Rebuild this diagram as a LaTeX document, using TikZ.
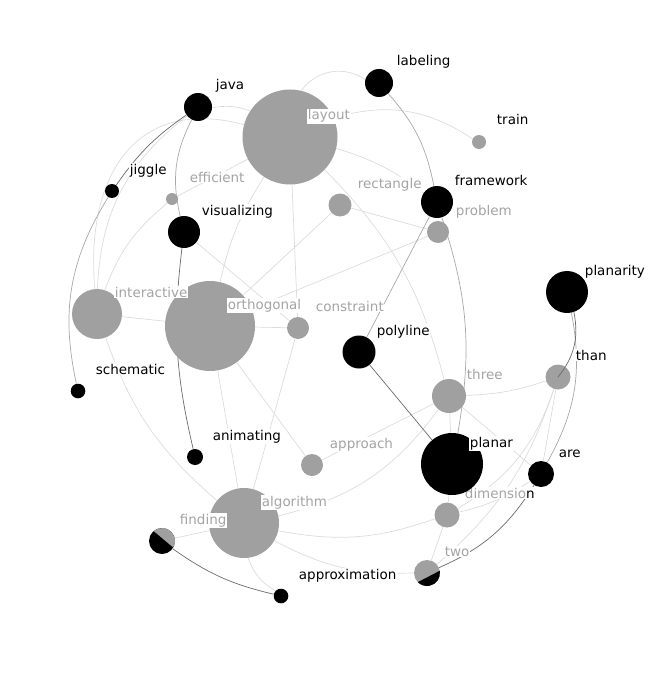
\documentclass[tikz,border=0pt]{standalone}
\usepackage{fontspec}
\setmainfont{DejaVu Sans}
\usetikzlibrary{calc}
\pgfdeclarelayer{wires}
\pgfsetlayers{wires,main}
\definecolor{ink}{HTML}{000000}
\definecolor{dotgray}{HTML}{A0A0A0}
\definecolor{wordgray}{HTML}{A4A4A4}
\definecolor{faint}{HTML}{DCDCDC}
\definecolor{mid}{HTML}{A8A8A8}
\definecolor{deep}{HTML}{6A6A6A}

\begin{document}
\begin{tikzpicture}[x=0.03cm,y=-0.03cm,line cap=round,line join=round,font=\fontsize{11.5}{13}\selectfont]
  \tikzset{
    graydot/.style={circle,fill=dotgray,inner sep=0pt,minimum size=#1*0.6mm},
    blackdot/.style={circle,fill=ink,inner sep=0pt,minimum size=#1*0.6mm},
    word/.style={anchor=base west,fill=white,inner sep=0.6pt,text=ink},
    paleword/.style={word,text=wordgray},
    faintedge/.style={faint,line width=0.6pt},
    midedge/.style={mid,line width=0.6pt},
    darkedge/.style={deep,line width=0.6pt}
  }
  \useasboundingbox (0,0) rectangle (647,676);

  % Keywords, in drawing order.
  \node[graydot=47.5] (layout) at (290,137) {};
  \node[paleword] (layoutL) at ($(layout)+(17,-17)$) {layout};
  \node[blackdot=14] (java) at (198,107) {};
  \node[word] (javaL) at ($(java)+(17,-17)$) {java};
  \node[blackdot=14] (labeling) at (379,83) {};
  \node[word] (labelingL) at ($(labeling)+(17,-17)$) {labeling};
  \node[graydot=7] (train) at (479,142) {};
  \node[word] (trainL) at ($(train)+(17,-17)$) {train};
  \node[blackdot=7] (jiggle) at (112,191) {};
  \node[word] (jiggleL) at ($(jiggle)+(17,-17)$) {jiggle};
  \node[graydot=6] (efficient) at (172,199) {};
  \node[paleword] (efficientL) at ($(efficient)+(17,-17)$) {efficient};
  \node[blackdot=16] (visualizing) at (184,232) {};
  \node[word] (visualizingL) at ($(visualizing)+(17,-17)$) {visualizing};
  \node[graydot=11.5] (rectangle) at (340,205) {};
  \node[paleword] (rectangleL) at ($(rectangle)+(17,-17)$) {rectangle};
  \node[blackdot=16] (framework) at (437,202) {};
  \node[word] (frameworkL) at ($(framework)+(17,-17)$) {framework};
  \node[graydot=11] (problem) at (438,232) {};
  \node[paleword] (problemL) at ($(problem)+(17,-17)$) {problem};
  \node[blackdot=21] (planarity) at (567,292) {};
  \node[word] (planarityL) at ($(planarity)+(17,-17)$) {planarity};
  \node[graydot=45] (orthogonal) at (210,326) {};
  \node[paleword] (orthogonalL) at ($(orthogonal)+(17,-17)$) {orthogonal};
  \node[graydot=25] (interactive) at (97,314) {};
  \node[paleword] (interactiveL) at ($(interactive)+(17,-17)$) {interactive};
  \node[graydot=11] (constraint) at (298,328) {};
  \node[paleword] (constraintL) at ($(constraint)+(17,-17)$) {constraint};
  \node[blackdot=16.5] (polyline) at (359,352) {};
  \node[word] (polylineL) at ($(polyline)+(17,-17)$) {polyline};
  \node[blackdot=7.3] (schematic) at (78,391) {};
  \node[word] (schematicL) at ($(schematic)+(17,-17)$) {schematic};
  \node[graydot=12.5] (than) at (558,377) {};
  \node[word] (thanL) at ($(than)+(17,-17)$) {than};
  \node[graydot=17] (three) at (449,396) {};
  \node[paleword] (threeL) at ($(three)+(17,-17)$) {three};
  \node[blackdot=8] (animating) at (195,457) {};
  \node[word] (animatingL) at ($(animating)+(17,-17)$) {animating};
  \node[graydot=11] (approach) at (312,465) {};
  \node[paleword] (approachL) at ($(approach)+(17,-17)$) {approach};
  \node[graydot=12.5] (dimension) at (447,515) {};
  \node[paleword] (dimensionL) at ($(dimension)+(17,-17)$) {dimensio\textcolor{ink}{n}};
  \node[blackdot=31] (planar) at (452,464) {};
  \node[word] (planarL) at ($(planar)+(17,-17)$) {planar};
  \node[blackdot=13] (are) at (541,474) {};
  \node[word] (areL) at ($(are)+(17,-17)$) {are};
  \node[graydot=35] (algorithm) at (244,523) {};
  \node[paleword] (algorithmL) at ($(algorithm)+(17,-17)$) {algorithm};
  \node[blackdot=13] (finding) at (162,541) {};
  \fill[dotgray] ($(finding)+(-130:13)$) arc[start angle=-130,end angle=30,radius=13] -- cycle;
  \node[paleword] (findingL) at ($(finding)+(17,-17)$) {finding};
  \node[graydot=13] (two) at (427,573) {};
  \fill[ink] ($(two)+(-10:13)$) arc[start angle=-10,end angle=135,radius=13] -- cycle;
  \node[paleword] (twoL) at ($(two)+(17,-17)$) {two};
  \node[blackdot=7.3] (approximation) at (281,596) {};
  \node[word] (approximationL) at ($(approximation)+(17,-17)$) {approximation};

  % Co-occurrence links, behind the circles.
  \begin{pgfonlayer}{wires}
    \draw[faintedge] (java) to[bend left=15] (layout);
    \draw[faintedge] (labeling) to[bend right=45] (layout);
    \draw[faintedge] (layout) to[bend left=25] (train);
    \draw[faintedge] (layout) to[bend left=10] (framework);
    \draw[faintedge] (layout) to[bend left=15] (three);
    \draw[faintedge] (layout) -- (efficient);
    \draw[faintedge] (layout) to[bend right=10] (orthogonal);
    \draw[faintedge] (layout) -- (constraint);
    \draw[faintedge] (layout) to[out=165,in=95,looseness=1.3] (interactive);
    \draw[faintedge] (java) to[bend right=25] (interactive);
    \draw[faintedge] (efficient) to[bend right=15] (interactive);
    \draw[faintedge] (visualizing) -- (constraint);
    \draw[faintedge] (rectangle) -- (orthogonal);
    \draw[faintedge] (rectangle) -- (problem);
    \draw[faintedge] (orthogonal) -- (problem);
    \draw[faintedge] (interactive) -- (orthogonal);
    \draw[faintedge] (orthogonal) -- (constraint);
    \draw[faintedge] (orthogonal) -- (approach);
    \draw[faintedge] (orthogonal) -- (algorithm);
    \draw[faintedge] (constraint) -- (algorithm);
    \draw[faintedge] (interactive) to[bend right=15] (algorithm);
    \draw[faintedge] (three) to[bend right=8] (than);
    \draw[faintedge] (three) -- (approach);
    \draw[faintedge] (three) to[bend left=20] (algorithm);
    \draw[faintedge] (three) -- (planar);
    \draw[faintedge] (three) -- (are);
    \draw[faintedge] (than) to[bend left=20] (dimension);
    \draw[faintedge] (than) to[bend left=15] (two);
    \draw[faintedge] (than) -- (are);
    \draw[faintedge] (dimension) to[bend right=10] (are);
    \draw[faintedge] (dimension) -- (planar);
    \draw[faintedge] (algorithm) to[bend right=15] (dimension);
    \draw[faintedge] (dimension) -- (two);
    \draw[faintedge] (algorithm) to[bend right=15] (two);
    \draw[faintedge] (algorithm) to[bend right=20] (approximation);
    \draw[faintedge] (finding) -- (algorithm);
    \draw[midedge] (java) to[bend right=20] (visualizing);
    \draw[midedge] (labeling) to[bend left=15] (framework);
    \draw[midedge] (polyline) -- (framework);
    \draw[midedge] (framework) to[bend left=14] (planar);
    \draw[midedge] (planarity) to[bend left=20] (are);
    \draw[midedge] (jiggle) to[bend right=22] (schematic);
    \draw[darkedge] (visualizing) to[bend right=10] (animating);
    \draw[darkedge] (java) to[bend right=10] (jiggle);
    \draw[darkedge] (polyline) -- (planar);
    \draw[darkedge] (are) to[bend left=17] (two);
    \draw[darkedge] (finding) to[bend right=11] (approximation);
  \end{pgfonlayer}
  \draw[darkedge] (planarity) to[bend left=25] (than.center);
\end{tikzpicture}
\end{document}
